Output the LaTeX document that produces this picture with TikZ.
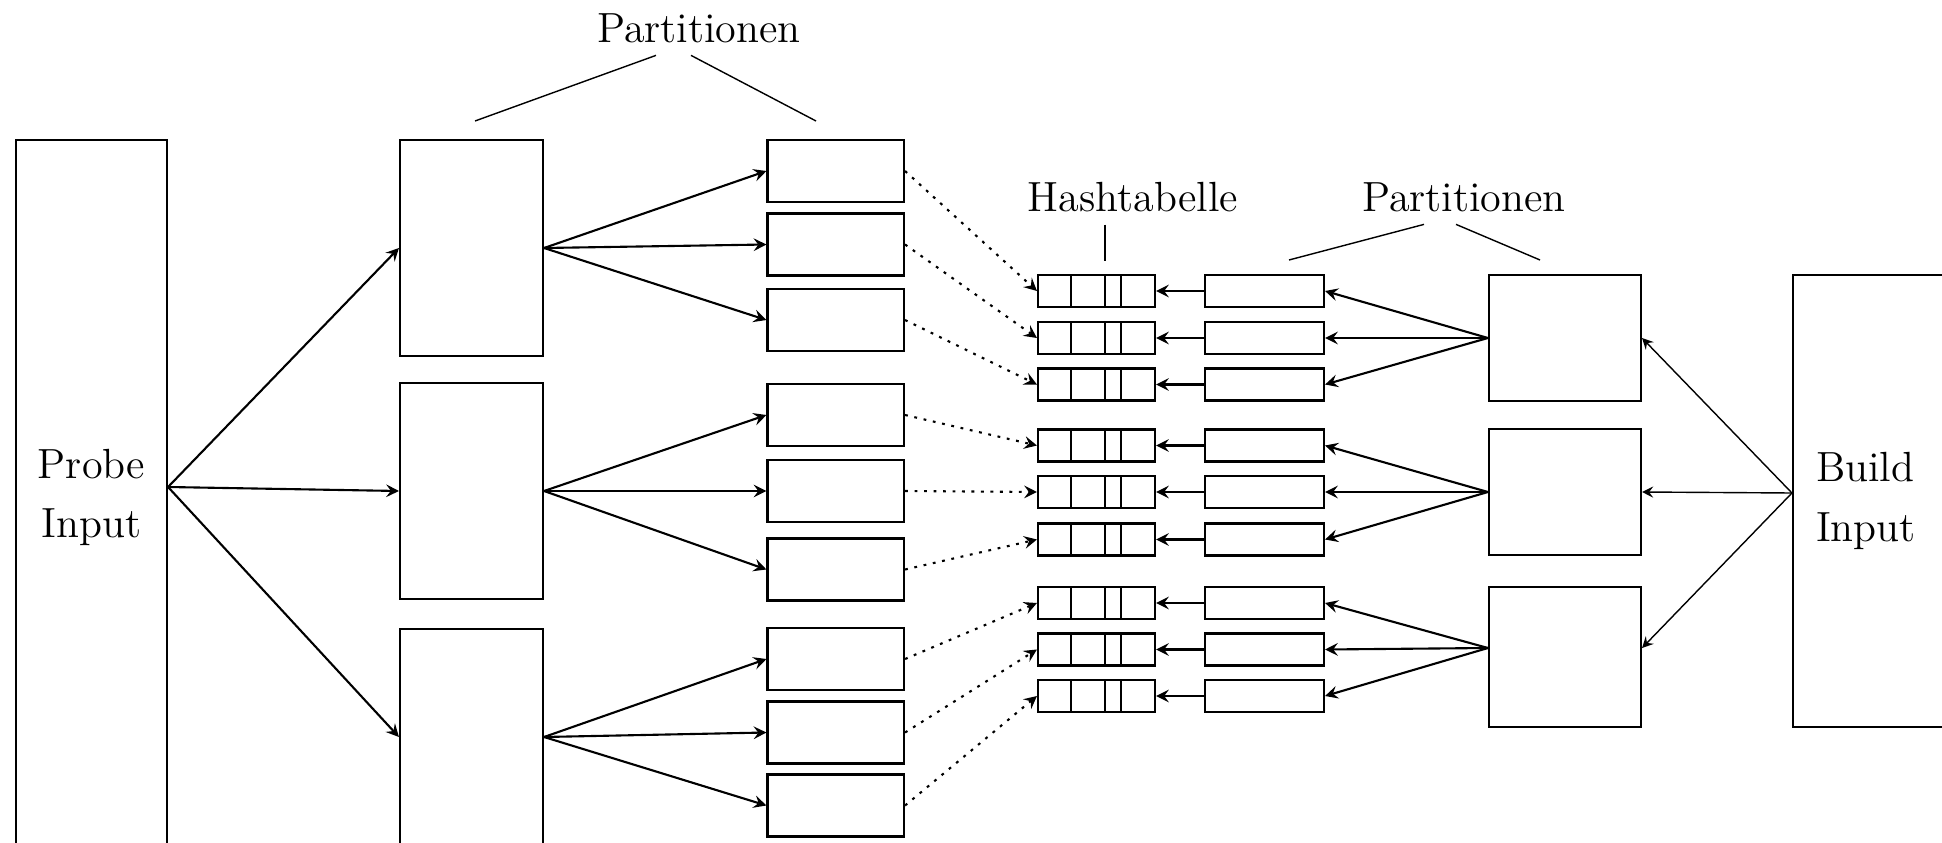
\documentclass[tikz,border=0pt]{standalone}
\usepackage{tikz}
\usetikzlibrary{positioning}

\begin{document}
\begin{tikzpicture}[>=stealth, line width=0.6pt, font=\fontsize{12}{17}\selectfont]
  % definition of the basic styles.
  \tikzstyle{box}=[draw, rectangle, inner sep=0pt]
  \tikzstyle{hashtab}=[box, minimum width=1.17cm, minimum height=0.32cm,
    path picture={\foreach \d in {0.33,0.67,0.83}
      \draw ([xshift=\d cm]path picture bounding box.south west) -- ([xshift=\d cm]path picture bounding box.north west);}]
  \tikzstyle{dots}=[dash pattern=on 0.8pt off 1.9pt]

  % The frame of the picture
  \useasboundingbox (0,0) rectangle (19.42,8.42);
  \clip (0,0) rectangle (19.42,8.42);

  % Probe side: input, partitions and sub partitions
  \node[box, minimum width=1.51cm, minimum height=7.15cm, align=center] (probe) at (0.915,3.445) {Probe\\Input};
  \foreach \i/\y in {1/5.94, 2/3.51, 3/1.05}
    \node[box, minimum width=1.43cm, minimum height=2.16cm] (pa\i) at (4.715,\y) {};
  \foreach \i/\y in {1/6.71, 2/5.975, 3/5.22, 4/4.27, 5/3.51, 6/2.725, 7/1.83, 8/1.095, 9/0.365}
    \node[box, minimum width=1.365cm, minimum height=0.62cm] (pp\i) at (8.3575,\y) {};

  % Build side: hash tables, partitions and input
  \foreach \i/\y in {1/5.51, 2/5.04, 3/4.575, 4/3.965, 5/3.50, 6/3.025, 7/2.39, 8/1.925, 9/1.46} {
    \node[hashtab] (ht\i) at (10.965,\y) {};
    \node[box, minimum width=1.19cm, minimum height=0.32cm] (bp\i) at (12.645,\y) {};
  }
  \foreach \i/\y/\h in {1/5.04/1.26, 2/3.50/1.26, 3/1.85/1.40}
    \node[box, minimum width=1.52cm, minimum height=\h cm] (pb\i) at (15.65,\y) {};
  \node[box, minimum width=2.5cm, minimum height=4.52cm, text width=2.04cm, inner xsep=0.23cm, align=left] (build) at (19.18,3.41) {Build\\Input};

  % The labels on top
  \node (lab1) at (6.99,8.14) {Partitionen};
  \node (lab2) at (11.33,6.45) {Hashtabelle};
  \node (lab3) at (14.64,6.45) {Partitionen};
  \coordinate (pl1) at (4.75,7.21);
  \coordinate (pr1) at (8.16,7.21);
  \coordinate (hl) at (11.05,5.81);
  \coordinate (pl3) at (12.89,5.82);
  \coordinate (pr3) at (15.40,5.82);
  \draw[thin] ([xshift=-0.43cm]lab1.south) -- (pl1);
  \draw[thin] ([xshift=-0.08cm]lab1.south) -- (pr1);
  \draw[thin] ([xshift=-0.28cm]lab2.south) -- (hl);
  \draw[thin] ([xshift=-0.40cm]lab3.south) -- (pl3);
  \draw[thin] ([xshift=-0.08cm]lab3.south) -- (pr3);

  % Arrows of the probe side
  \foreach \i in {1,2,3}
    \draw[->] ([yshift=1.05mm]probe.east) -- (pa\i.west);
  \foreach \i/\k in {1/1, 1/2, 1/3, 2/4, 2/5, 2/6, 3/7, 3/8, 3/9}
    \draw[->] (pa\i.east) -- (pp\k.west);

  % Probing the hash tables
  \foreach \i in {1,...,9} {
    \draw[->, dots] (pp\i.east) -- (ht\i.west);
    \draw[->] (bp\i.west) -- (ht\i.east);
  }

  % Arrows of the build side
  \foreach \i/\k/\s in {1/1/0mm, 1/2/0mm, 1/3/0mm, 2/4/0mm, 2/5/0mm, 2/6/0mm, 3/7/0.9mm, 3/8/0.9mm, 3/9/0.9mm}
    \draw[->] ([yshift=\s]pb\i.west) -- (bp\k.east);
  \foreach \i/\s in {1/0mm, 2/0mm, 3/0.9mm}
    \draw[->, thin] ([yshift=0.8mm]build.west) -- ([yshift=\s]pb\i.east);
\end{tikzpicture}
\end{document}
